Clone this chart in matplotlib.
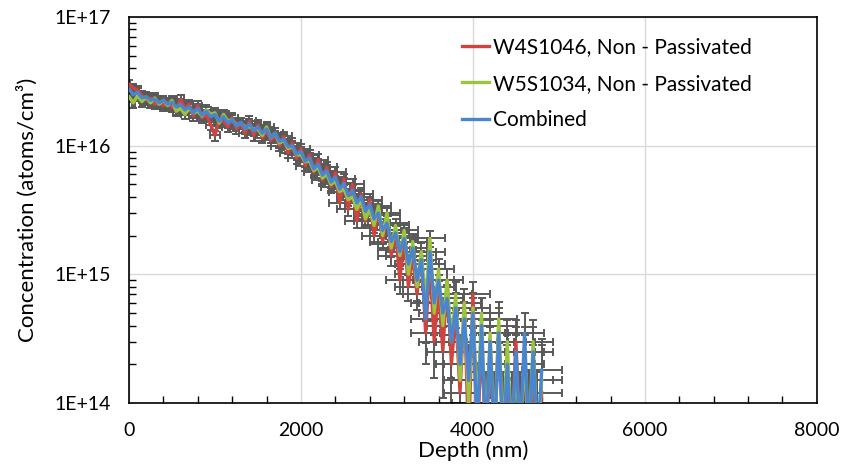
import numpy as np
import matplotlib
matplotlib.use("Agg")
import matplotlib.pyplot as plt
from matplotlib.ticker import MultipleLocator, LogLocator, NullFormatter, FixedLocator

plt.rcParams["font.family"] = ["Lato", "DejaVu Sans"]

# depth (nm)
depth = [
    0, 50, 100, 150, 200, 250, 300, 350, 400, 450,
    500, 550, 600, 650, 700, 750, 800, 850, 900, 950,
    1000, 1050, 1100, 1150, 1200, 1250, 1300, 1350, 1400, 1450,
    1500, 1550, 1600, 1650, 1700, 1750, 1800, 1850, 1900, 1950,
    2000, 2050, 2100, 2150, 2200, 2250, 2300, 2350, 2400, 2450,
    2500, 2550, 2600, 2650, 2700, 2750, 2800, 2850, 2900, 2950,
    3000, 3050, 3100, 3150, 3200, 3250, 3300, 3350, 3400, 3450,
    3500, 3550, 3600, 3650, 3700, 3750, 3800, 3850, 3900, 3950,
    4000, 4050, 4100, 4150, 4200, 4250, 4300, 4350, 4400, 4450,
    4500, 4550, 4600, 4650, 4700, 4750, 4800,
]

# concentrations in units of 1E+15 atoms/cm3
w4s1046 = [
    30.0, 28.0, 27.0, 24.5, 22.5, 23.5, 21.0, 22.0, 20.5, 21.5,
    20.0, 19.0, 23.0, 19.5, 21.0, 17.0, 20.5, 16.5, 17.5, 14.5,
    12.0, 16.0, 15.5, 14.0, 16.5, 13.5, 15.0, 12.5, 15.5, 12.0,
    14.5, 11.5, 13.0, 11.0, 12.0, 10.0, 11.8, 8.8, 10.5, 8.0,
    9.5, 7.0, 8.5, 6.2, 7.8, 5.4, 6.8, 4.8, 6.2, 3.6,
    5.5, 3.2, 5.0, 2.6, 4.2, 2.6, 3.8, 2.0, 3.3, 1.8,
    2.9, 1.4, 2.2, 0.9, 2.0, 0.8, 1.4, 0.7, 1.5, 0.35,
    1.2, 0.3, 0.8, 0.25, 0.9, 0.2, 0.5, 0.12, 0.6, 0.05,
    0.7, 0.05, 0.3, 0.05, 0.25, 0.05, 0.4, 0.05, 0.15, 0.05,
    0.3, 0.05, 0.2, 0.05, 0.15, 0.05, 0.12,
]
w5s1034 = [
    24.0, 21.5, 24.5, 22.0, 24.0, 21.5, 23.5, 21.0, 22.5, 20.5,
    22.5, 18.5, 19.5, 17.5, 19.5, 18.0, 18.5, 17.0, 19.0, 17.5,
    18.0, 15.0, 17.5, 15.5, 16.0, 14.5, 15.0, 14.0, 14.0, 13.5,
    13.5, 12.0, 14.0, 11.5, 12.5, 10.5, 11.0, 9.5, 9.8, 8.5,
    8.5, 7.5, 7.6, 6.4, 6.8, 5.6, 6.0, 5.0, 5.3, 4.4,
    4.6, 3.8, 4.0, 3.2, 3.8, 2.7, 3.2, 2.4, 3.4, 2.0,
    3.0, 1.6, 2.4, 1.4, 2.2, 1.0, 1.8, 0.8, 1.5, 0.6,
    1.9, 0.5, 1.1, 0.4, 0.9, 0.3, 0.7, 0.15, 0.6, 0.1,
    0.55, 0.08, 0.5, 0.05, 0.35, 0.05, 0.45, 0.05, 0.3, 0.05,
    0.2, 0.05, 0.25, 0.05, 0.3, 0.05, 0.15,
]
combined = [
    27.5, 25.0, 26.0, 23.5, 24.0, 22.5, 23.0, 21.5, 22.5, 21.0,
    21.8, 20.0, 21.0, 19.0, 20.0, 18.0, 19.5, 17.2, 18.5, 16.8,
    17.5, 15.5, 16.8, 15.0, 16.0, 14.2, 15.2, 13.5, 14.8, 13.0,
    14.0, 12.5, 13.5, 11.5, 12.5, 10.8, 11.2, 9.8, 10.0, 8.6,
    9.0, 7.6, 8.0, 6.6, 7.2, 5.9, 6.4, 5.2, 5.7, 4.6,
    5.1, 4.1, 4.5, 3.6, 4.0, 3.1, 3.5, 2.7, 3.0, 2.2,
    2.5, 1.8, 2.1, 1.5, 1.9, 1.2, 1.6, 0.9, 1.3, 0.45,
    1.5, 0.6, 0.9, 0.5, 0.65, 0.3, 0.55, 0.2, 0.45, 0.15,
    0.5, 0.06, 0.4, 0.05, 0.3, 0.05, 0.35, 0.05, 0.2, 0.05,
    0.25, 0.05, 0.35, 0.05, 0.25, 0.05, 0.18,
]

# measurement uncertainty
depth_err_frac = 0.045      # relative depth error
conc_err_frac = 0.08        # relative concentration error
conc_err_floor = 1.2e14     # background noise (atoms/cm3)

series = [
    ("W4S1046, Non - Passivated", w4s1046, "#D0433F"),
    ("W5S1034, Non - Passivated", w5s1034, "#9BC53D"),
    ("Combined", combined, "#4A86D0"),
]

fig = plt.figure(figsize=(8.43, 4.65), dpi=100)
ax = fig.add_axes([0.153, 0.1333, 0.816, 0.8301])

x = np.array(depth, dtype=float)
xerr = depth_err_frac * x + 15

for label, vals, color in series:
    y = np.array(vals) * 1e15
    yerr = conc_err_frac * y + conc_err_floor
    ax.errorbar(x, y, xerr=xerr, yerr=yerr, fmt="none", ecolor="#595959",
                elinewidth=1.4, capsize=3, capthick=1.4, zorder=2)

for label, vals, color in series:
    y = np.array(vals) * 1e15
    ax.plot(x, y, color=color, lw=2.4, label=label, zorder=3)

ax.set_yscale("log", nonpositive="clip")
ax.set_xlim(0, 8000)
ax.set_ylim(1e14, 1e17)

ax.xaxis.set_major_locator(MultipleLocator(2000))
ax.xaxis.set_minor_locator(MultipleLocator(400))
ax.yaxis.set_major_locator(FixedLocator([1e14, 1e15, 1e16, 1e17]))
ax.yaxis.set_minor_locator(LogLocator(base=10, subs=np.arange(2, 10)))
ax.yaxis.set_minor_formatter(NullFormatter())
ax.set_yticklabels(["1E+14", "1E+15", "1E+16", "1E+17"])

ax.tick_params(axis="both", which="major", direction="in", length=0,
               labelsize=14, colors="#000000")
ax.tick_params(axis="x", which="major", pad=14)
ax.tick_params(axis="y", which="major", pad=13)
ax.tick_params(axis="both", which="minor", direction="in", length=5,
               width=1, color="#000000")

ax.grid(True, which="major", color="#D9D9D9", lw=1)
ax.set_axisbelow(True)
for sp in ax.spines.values():
    sp.set_color("#000000")
    sp.set_linewidth(1.2)

ax.set_xlabel("Depth (nm)", fontsize=16, labelpad=1)
ax.set_ylabel("Concentration (atoms/cm³)", fontsize=16, labelpad=12)

ax.legend(loc="upper left", bbox_to_anchor=(0.472, 0.97), frameon=False,
          fontsize=15, handlelength=1.3, handletextpad=0.2,
          labelspacing=0.8, borderaxespad=0)

fig.savefig("out.png", dpi=100)
